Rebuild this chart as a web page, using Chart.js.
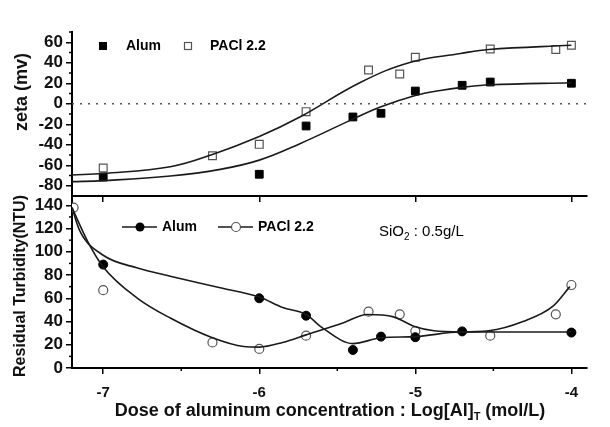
<!DOCTYPE html>
<html>
<head>
<meta charset="utf-8">
<script src="https://cdn.jsdelivr.net/npm/chart.js@4"></script>
<style>
body{margin:0;background:#fff;width:610px;height:427px;position:relative;overflow:hidden}
#top{position:absolute;left:0;top:0}
#bot{position:absolute;left:0;top:180px}
</style>
</head>
<body>
<canvas id="top" width="610" height="210"></canvas>
<canvas id="bot" width="610" height="247"></canvas>
<script>
// x axis : Log[Al]T
var xMin = -7.2, xMax = -3.9
var xMajor = [-7, -6, -5, -4]
var xMinor = [-6.5, -5.5, -4.5]
var xLabels = ['-7', '-6', '-5', '-4']

// zeta panel
var zetaTicks = [-80, -60, -40, -20, 0, 20, 40, 60]
var zetaMinor = [-70, -50, -30, -10, 10, 30, 50, 70]
var zetaAlumX = [-7, -6, -5.7, -5.4, -5.22, -5, -4.7, -4.52, -4]
var zetaAlumY = [-71.5, -68.8, -21.7, -12.9, -9.3, 12.4, 18, 21.2, 20]
var zetaPaclX = [-7, -6.3, -6, -5.7, -5.3, -5.1, -5, -4.52, -4.1, -4]
var zetaPaclY = [-62.7, -50.7, -39.6, -7.7, 33, 29, 45.3, 53.4, 53, 57]
// fitted curves
var zetaAlumFitX = [-7.2, -7, -6.57, -6.25, -6, -5.74, -5.4, -5.22, -5, -4.84, -4.7, -4.52, -4]
var zetaAlumFitY = [-76, -75, -70.5, -64, -55, -39, -15, -3, 8, 13, 16, 18.5, 20.5]
var zetaPaclFitX = [-7.2, -7, -6.57, -6.3, -6, -5.74, -5.35, -5.03, -4.71, -4.53, -4]
var zetaPaclFitY = [-69.5, -68, -61.5, -49.5, -32, -13, 21, 40.5, 49, 53, 57]

// turbidity panel
var turbTicks = [0, 20, 40, 60, 80, 100, 120, 140]
var turbMinor = [10, 30, 50, 70, 90, 110, 130]
var turbAlumX = [-7, -6, -5.7, -5.4, -5.22, -5, -4.7, -4]
var turbAlumY = [89, 60, 45, 15.5, 27, 26.5, 31.5, 30.5]
var turbPaclX = [-7.19, -7, -6.3, -6, -5.7, -5.3, -5.1, -5, -4.52, -4.1, -4]
var turbPaclY = [138, 67, 22, 16.4, 27.8, 48.5, 46.2, 31.8, 27.8, 46.2, 71.4]
var turbAlumFitX = [-7.2, -7.15, -7, -6.78, -6.57, -6.25, -6, -5.85, -5.7, -5.6, -5.4, -5.22, -5, -4.71, -4]
var turbAlumFitY = [138, 118, 97, 86, 79, 69, 61, 52, 46, 35, 21, 26, 27, 31, 31]
var turbPaclFitX = [-7.2, -7.1, -7, -6.78, -6.57, -6.3, -6.1, -6, -5.85, -5.7, -5.46, -5.31, -5.14, -5.01, -4.88, -4.71, -4.53, -4.31, -4.12, -4.01]
var turbPaclFitY = [138, 109, 87, 60, 43, 26, 18.5, 18, 22, 28.5, 39, 46, 44, 36, 32, 31, 32, 40, 53, 70]

var fam = '"Liberation Sans", Arial, sans-serif'

function pts(xs, ys){
    return xs.map(function(x, i){ return {x: x, y: ys[i]} })
}

//kreski pomocnicze na osiach
var minorTicks = {
    id: 'minorTicks',
    afterDraw: function(chart, args, opts){
        var ctx = chart.ctx
        var sy = chart.scales.y, sx = chart.scales.x
        ctx.save()
        ctx.strokeStyle = '#000'
        ctx.lineWidth = 1.5
        ;(opts.y || []).forEach(function(v){
            var p = sy.getPixelForValue(v)
            ctx.beginPath(); ctx.moveTo(sy.right - 3, p); ctx.lineTo(sy.right, p); ctx.stroke()
        })
        ;(opts.x || []).forEach(function(v){
            var p = sx.getPixelForValue(v)
            ctx.beginPath(); ctx.moveTo(p, sx.top); ctx.lineTo(p, sx.top + 3); ctx.stroke()
        })
        ctx.restore()
    }
}

function vTitle(ctx, text, x, y, size){
    ctx.save()
    ctx.translate(x, y)
    ctx.rotate(-Math.PI / 2)
    ctx.font = 'bold ' + size + 'px ' + fam
    ctx.fillStyle = '#111'
    ctx.textAlign = 'center'
    ctx.textBaseline = 'middle'
    ctx.fillText(text, 0, 0)
    ctx.restore()
}

function xAxis(showLabels){
    return {
        type: 'linear', min: xMin, max: xMax,
        border: {color: '#000', width: 2},
        grid: {drawOnChartArea: false, tickLength: 6, color: '#000', lineWidth: 1.5},
        afterBuildTicks: function(ax){ ax.ticks = xMajor.map(function(v){ return {value: v} }) },
        ticks: {
            display: showLabels, padding: 10, color: '#111', maxRotation: 0,
            font: {family: fam, size: 15, weight: 'bold'},
            callback: function(v){ return xLabels[xMajor.indexOf(v)] }
        }
    }
}

function yAxis(min, max, tickVals){
    return {
        type: 'linear', min: min, max: max,
        border: {color: '#000', width: 2},
        grid: {drawOnChartArea: false, tickLength: 6, color: '#000', lineWidth: 1.5},
        afterBuildTicks: function(ax){ ax.ticks = tickVals.map(function(v){ return {value: v} }) },
        ticks: {padding: 3, color: '#111', font: {family: fam, size: 17, weight: 'bold'}},
        afterFit: function(ax){ ax.width = 72 }
    }
}

var curve = {showLine: true, pointRadius: 0, borderColor: '#1a1a1a', borderWidth: 1.6, cubicInterpolationMode: 'monotone', fill: false}
var smooth = {showLine: true, pointRadius: 0, borderColor: '#1a1a1a', borderWidth: 1.6, tension: 0.4, fill: false}

// gorny wykres - zeta
var topTxt = {
    id: 'topTxt',
    afterDraw: function(chart){
        var ctx = chart.ctx
        vTitle(ctx, 'zeta (mv)', 22, 92, 18)
        ctx.save()
        ctx.font = 'bold 14px ' + fam
        ctx.textBaseline = 'middle'
        ctx.fillStyle = '#000'
        ctx.fillRect(99, 42, 8, 8)
        ctx.fillText('Alum', 126, 46)
        ctx.strokeStyle = '#555'
        ctx.lineWidth = 1.2
        ctx.strokeRect(184.5, 42.5, 7, 7)
        ctx.fillText('PACl 2.2', 210, 46)
        ctx.restore()
    }
}

new Chart(document.getElementById('top'), {
    type: 'scatter',
    data: {
        datasets: [
            {data: [{x: xMin, y: 0}, {x: xMax, y: 0}], showLine: true, pointRadius: 0, borderColor: '#555', borderWidth: 1.5, borderDash: [2, 6]},
            Object.assign({data: pts(zetaAlumFitX, zetaAlumFitY)}, smooth),
            Object.assign({data: pts(zetaPaclFitX, zetaPaclFitY)}, smooth),
            {label: 'Alum', data: pts(zetaAlumX, zetaAlumY), pointStyle: 'rect', pointRadius: 5.5, backgroundColor: '#000', borderColor: '#000', borderWidth: 1},
            {label: 'PACl 2.2', data: pts(zetaPaclX, zetaPaclY), pointStyle: 'rect', pointRadius: 5.5, backgroundColor: '#fff', borderColor: '#555', borderWidth: 1.2}
        ]
    },
    options: {
        responsive: false, animation: false,
        layout: {padding: {top: 32, right: 23, left: 0, bottom: 0}},
        plugins: {legend: {display: false}, tooltip: {enabled: false}, minorTicks: {y: zetaMinor}},
        scales: {
            x: Object.assign(xAxis(false), {afterFit: function(ax){ ax.height = 14 }}),
            y: yAxis(-90, 70, zetaTicks)
        }
    },
    plugins: [minorTicks, topTxt]
})

// dolny wykres - metnosc
var botTxt = {
    id: 'botTxt',
    afterDraw: function(chart){
        var ctx = chart.ctx
        vTitle(ctx, 'Residual Turbidity(NTU)', 21, 106, 16)
        ctx.save()
        ctx.strokeStyle = '#1a1a1a'
        ctx.lineWidth = 1.6
        ctx.beginPath(); ctx.moveTo(122, 47); ctx.lineTo(157, 47); ctx.stroke()
        ctx.beginPath(); ctx.moveTo(218, 47); ctx.lineTo(253, 47); ctx.stroke()
        ctx.fillStyle = '#000'
        ctx.beginPath(); ctx.arc(140, 47, 4.5, 0, Math.PI * 2); ctx.fill()
        ctx.fillStyle = '#fff'
        ctx.strokeStyle = '#555'
        ctx.lineWidth = 1.2
        ctx.beginPath(); ctx.arc(236, 47, 4.5, 0, Math.PI * 2); ctx.fill(); ctx.stroke()
        ctx.fillStyle = '#000'
        ctx.font = 'bold 14px ' + fam
        ctx.textBaseline = 'middle'
        ctx.fillText('Alum', 162, 47)
        ctx.fillText('PACl 2.2', 258, 47)
        // SiO2
        ctx.font = '15px ' + fam
        var x = 379
        ctx.fillText('SiO', x, 52); x += ctx.measureText('SiO').width
        ctx.font = '10px ' + fam
        ctx.fillText('2', x, 57); x += ctx.measureText('2').width
        ctx.font = '15px ' + fam
        ctx.fillText(' : 0.5g/L', x, 52)
        // x title
        var a = 'Dose of aluminum concentration : Log[Al]', b = 'T', c = ' (mol/L)'
        ctx.font = 'bold 18px ' + fam
        var wa = ctx.measureText(a).width, wc = ctx.measureText(c).width
        ctx.font = 'bold 11px ' + fam
        var wb = ctx.measureText(b).width
        var sx = 330 - (wa + wb + wc) / 2
        ctx.textBaseline = 'alphabetic'
        ctx.fillStyle = '#111'
        ctx.font = 'bold 18px ' + fam
        ctx.fillText(a, sx, 236)
        ctx.font = 'bold 11px ' + fam
        ctx.fillText(b, sx + wa, 240)
        ctx.font = 'bold 18px ' + fam
        ctx.fillText(c, sx + wa + wb, 236)
        ctx.restore()
    }
}

new Chart(document.getElementById('bot'), {
    type: 'scatter',
    data: {
        datasets: [
            Object.assign({data: pts(turbAlumFitX, turbAlumFitY)}, curve),
            Object.assign({data: pts(turbPaclFitX, turbPaclFitY)}, curve),
            {label: 'Alum', data: pts(turbAlumX, turbAlumY), pointStyle: 'circle', pointRadius: 4.5, backgroundColor: '#000', borderColor: '#000', borderWidth: 1},
            {label: 'PACl 2.2', data: pts(turbPaclX, turbPaclY), pointStyle: 'circle', pointRadius: 4.5, backgroundColor: '#fff', borderColor: '#555', borderWidth: 1.2}
        ]
    },
    options: {
        responsive: false, animation: false,
        layout: {padding: {top: 16, right: 23, left: 0, bottom: 0}},
        plugins: {legend: {display: false}, tooltip: {enabled: false}, minorTicks: {y: turbMinor, x: xMinor}},
        scales: {
            x: Object.assign(xAxis(true), {afterFit: function(ax){ ax.height = 59 }}),
            y: yAxis(0, 148, turbTicks)
        }
    },
    plugins: [minorTicks, botTxt]
})
</script>
</body>
</html>
